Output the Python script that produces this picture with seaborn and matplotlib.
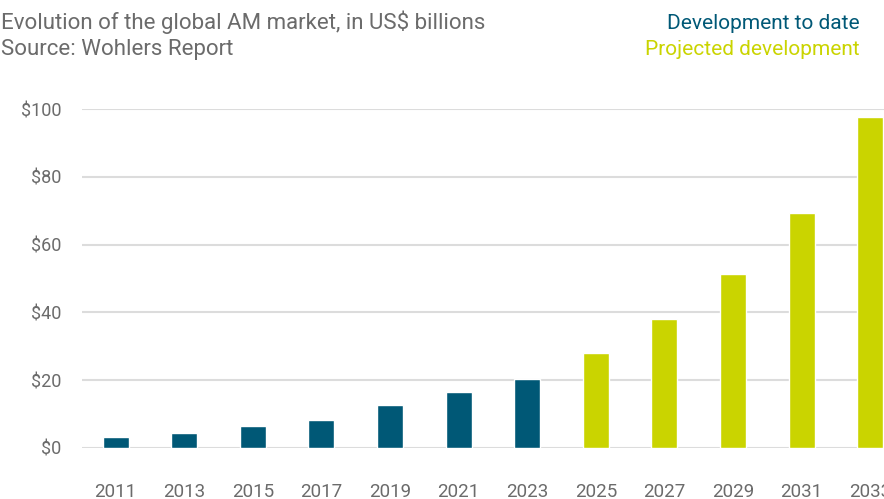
import pandas as pd
import numpy as np
import seaborn as sns
import matplotlib.pyplot as plt

years = [2011, 2013, 2015, 2017, 2019, 2021, 2023, 2025, 2027, 2029, 2031, 2033]
values = [3.3, 4.5, 6.6, 8.3, 12.8, 16.5, 20.4, 28.0, 38.0, 51.4, 69.3, 97.7]
phase = ['Development to date'] * 7 + ['Projected development'] * 5
yticks = [0, 20, 40, 60, 80, 100]

teal = '#005876'
lime = '#cad400'
grey = '#6b6b6b'

df = pd.DataFrame({'year': years, 'value': values, 'phase': phase})

sns.set_style('white')
plt.rcParams['font.family'] = ['Roboto', 'DejaVu Sans']

fig = plt.figure(figsize=(8.84, 4.99), dpi=100)
ax = fig.add_axes([82 / 884, 51 / 499, 1 - 82 / 884, 339 / 499])

sns.barplot(data=df, x='year', y='value', hue='phase',
            palette={'Development to date': teal, 'Projected development': lime},
            dodge=False, width=0.38, legend=False, saturation=1, ax=ax)

ax.set_ylim(0, 100)
ax.set_xlim(-0.49, 11.2)
ax.set_yticks(yticks)
ax.set_yticklabels([f'${v}' for v in yticks])
ax.set_xlabel('')
ax.set_ylabel('')
ax.set_axisbelow(True)
ax.yaxis.grid(True, color='#dcdcdc', linewidth=1.5)
ax.xaxis.grid(False)
sns.despine(ax=ax, left=True, bottom=True, top=True, right=True)
ax.tick_params(axis='x', length=0, pad=25, labelsize=13.5, labelcolor=grey)
ax.tick_params(axis='y', length=0, pad=15, labelsize=13, labelcolor=grey)

# header texts
fig.text(1 / 884, 1 - 29 / 499, 'Evolution of the global AM market, in US$ billions',
         fontsize=16, color=grey, ha='left', va='baseline')
fig.text(1 / 884, 1 - 55 / 499, 'Source: Wohlers Report',
         fontsize=16, color=grey, ha='left', va='baseline')
fig.text(860 / 884, 1 - 29 / 499, 'Development to date',
         fontsize=15, color=teal, ha='right', va='baseline')
fig.text(860 / 884, 1 - 55 / 499, 'Projected development',
         fontsize=15, color=lime, ha='right', va='baseline')

fig.savefig('out.png', dpi=100)
